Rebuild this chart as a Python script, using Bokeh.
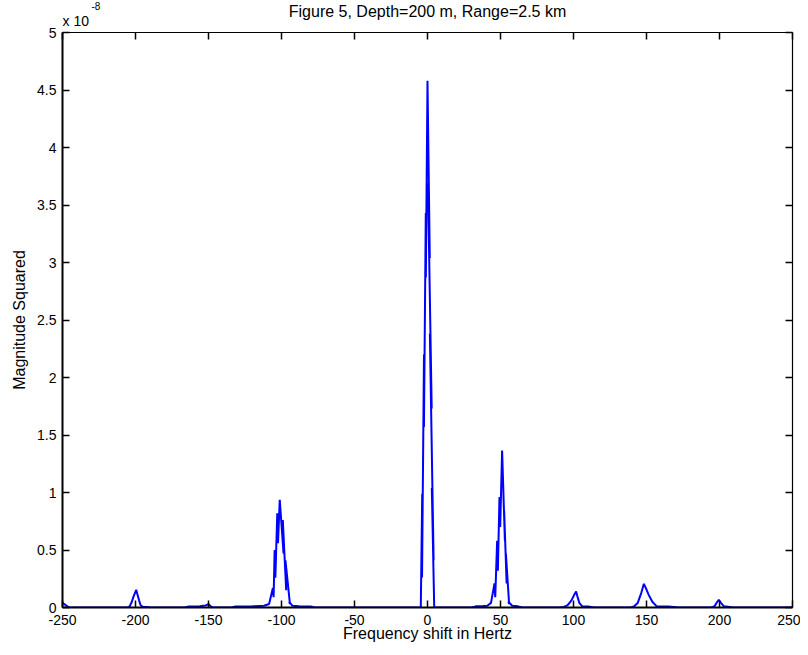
from bokeh.plotting import figure
from bokeh.models import (Range1d, FixedTicker, LinearAxis, Title,
                          CustomJSTickFormatter, ColumnDataSource)
from bokeh.embed import file_html
from bokeh.resources import INLINE

# ---------------- data (magnitude in units of 1e-8) ----------------
title_text = "Figure 5, Depth=200 m, Range=2.5 km"
x_label = "Frequency shift in Hertz"
y_label = "Magnitude Squared"
multiplier_text = "x 10"
exponent_text = "-8"

x_ticks = [-250, -200, -150, -100, -50, 0, 50, 100, 150, 200, 250]
y_ticks = [0, 0.5, 1, 1.5, 2, 2.5, 3, 3.5, 4, 4.5, 5]

freq_hz = [
    -250, -245.5, -207,                                                    # left edge
    -205.5, -204, -202.5, -201.5, -199.5, -198.8, -197.5, -196.5, -195, -192, -190,  # -200
    -166, -164, -156, -152, -150, -148.5, -147,                            # -150
    -134, -132, -120, -112, -108.5, -105.9, -105.4, -104.7, -104.2, -102.9,
    -102.4, -101.2, -98.6, -99.1, -96.8, -97.3, -94.2, -94.7, -92.5, -88, -80, -77,  # -100
    -4.6, -3.61, -3.74, -2.4, -2.43, -1.17, -1.13, 0.0, 1.56, 0.31, 2.87, 1.62, 4.19, 2.96, 4.6,  # 0
    30.5, 33, 38, 41, 43.5, 45.9, 46.4, 47.7, 48.2, 49.3, 49.8, 51.1, 53.0, 52.5,
    54.2, 53.7, 55.9, 55.4, 58, 62, 65,                                    # 50
    90, 93.4, 96, 98.5, 100.5, 101.8, 102.6, 104, 106, 110, 114,           # 100
    139, 141.5, 144, 146.5, 148.2, 149.5, 151.5, 154, 157, 165, 172,       # 150
    194, 196.5, 198.5, 199.5, 201, 203, 207, 209,                          # 200
    250,
]
mag_sq = [
    0.04, 0, 0,
    0, 0.01, 0.05, 0.09, 0.154, 0.12, 0.06, 0.02, 0.006, 0.004, 0,
    0, 0.008, 0.01, 0.018, 0.028, 0.01, 0,
    0, 0.008, 0.01, 0.015, 0.03, 0.17, 0.09, 0.50, 0.26, 0.82,
    0.56, 0.937, 0.47, 0.76, 0.15, 0.41, 0.03, 0.05, 0.015, 0.01, 0.008, 0,
    0, 0.99, 0.26, 2.2, 1.57, 3.43, 2.87, 4.58, 3.04, 3.69, 1.73, 2.38, 0.41, 1.04, 0,
    0, 0.01, 0.012, 0.015, 0.04, 0.21, 0.09, 0.58, 0.32, 0.96, 0.70, 1.365, 0.58, 0.84,
    0.21, 0.47, 0.03, 0.05, 0.015, 0.01, 0,
    0, 0.005, 0.02, 0.06, 0.11, 0.139, 0.10, 0.04, 0.01, 0.008, 0,
    0, 0.01, 0.04, 0.13, 0.206, 0.17, 0.11, 0.05, 0.01, 0.008, 0,
    0, 0.01, 0.05, 0.067, 0.04, 0.01, 0.005, 0,
    0,
]

FONT = "Liberation Sans"
TICK_FS = "14px"
LABEL_FS = "16px"
FRAME_W, FRAME_H = 730, 575

p = figure(frame_width=FRAME_W, frame_height=FRAME_H,
           x_range=Range1d(x_ticks[0], x_ticks[-1]),
           y_range=Range1d(y_ticks[0], y_ticks[-1]),
           output_backend="svg", toolbar_location=None,
           min_border_left=62, min_border_right=8,
           min_border_top=32, min_border_bottom=40)
p.background_fill_color = "white"
p.border_fill_color = "white"
p.outline_line_color = None
p.xgrid.visible = False
p.ygrid.visible = False
p.title.visible = False

fmt = CustomJSTickFormatter(code="return String(tick);")

def style_axis(ax, ticks, lw, show_labels):
    ax.ticker = FixedTicker(ticks=ticks)
    ax.formatter = fmt
    ax.axis_line_color = "black"
    ax.axis_line_width = lw
    ax.major_tick_line_color = "black"
    ax.major_tick_line_width = 1.5
    ax.major_tick_in = 7
    ax.major_tick_out = 0
    ax.minor_tick_line_color = None
    ax.major_label_text_font = FONT
    ax.major_label_text_font_size = TICK_FS
    ax.major_label_text_color = "black"
    if not show_labels:
        ax.major_label_text_font_size = "0px"
        ax.major_label_text_color = None
        ax.major_label_standoff = 0

xa = p.xaxis[0]
ya = p.yaxis[0]
style_axis(xa, x_ticks, 2, True)
style_axis(ya, y_ticks, 2, True)
xa.major_label_standoff = 7
ya.major_label_standoff = 6
xa.axis_label = x_label
ya.axis_label = y_label
for ax in (xa, ya):
    ax.axis_label_text_font = FONT
    ax.axis_label_text_font_size = LABEL_FS
    ax.axis_label_text_font_style = "normal"
    ax.axis_label_text_color = "black"
xa.axis_label_standoff = -3
ya.axis_label_standoff = 6

top = LinearAxis()
right = LinearAxis()
style_axis(top, x_ticks, 1.2, False)
style_axis(right, y_ticks, 1.2, False)
p.add_layout(top, "above")
p.add_layout(right, "right")

# texts above the frame: multiplier, main title, exponent (stacked outward)
p.add_layout(Title(text=multiplier_text, align="left", offset=0, standoff=3,
                   vertical_align="top", text_font=FONT, text_font_size=TICK_FS,
                   text_font_style="normal", text_color="black"), "above")
p.add_layout(Title(text=title_text, align="center", standoff=-20.5,
                   vertical_align="middle", text_font=FONT, text_font_size=LABEL_FS,
                   text_font_style="normal", text_color="black"), "above")
p.add_layout(Title(text=exponent_text, align="left", offset=29, standoff=-1,
                   vertical_align="top", text_font=FONT, text_font_size="10px",
                   text_font_style="normal", text_color="black"), "above")

src = ColumnDataSource(dict(f=freq_hz, m=mag_sq))
p.line("f", "m", source=src, line_color="#0000FF", line_width=2)

open("out.html", "w").write(file_html(p, INLINE))
